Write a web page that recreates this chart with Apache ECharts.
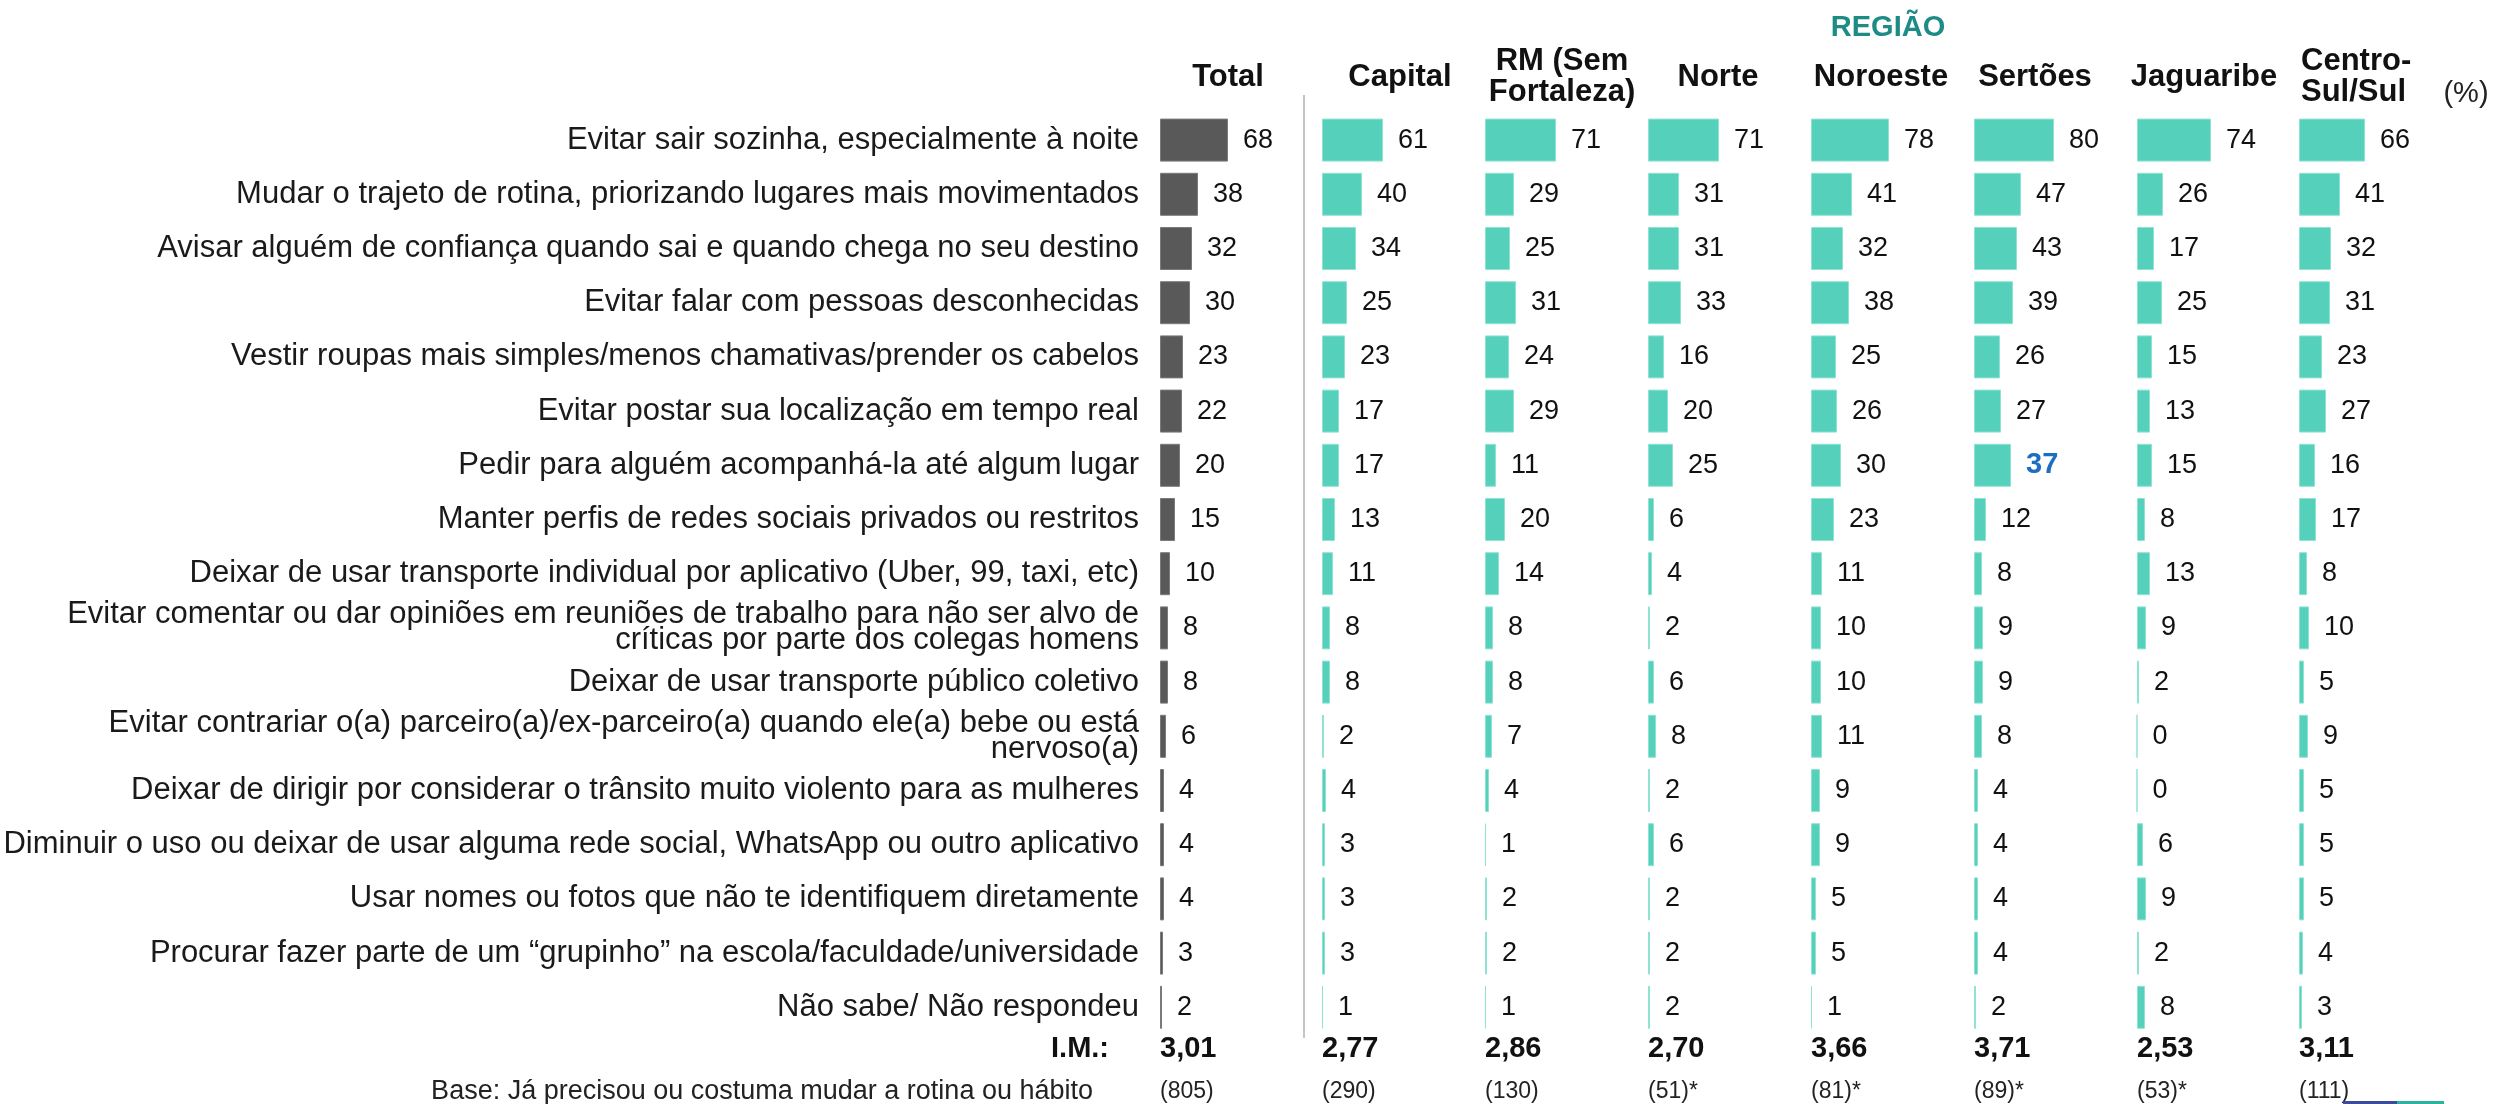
<!DOCTYPE html>
<html>
<head>
<meta charset="utf-8">
<script src="https://cdn.jsdelivr.net/npm/echarts@6/dist/echarts.min.js"></script>
<style>
  html, body { margin: 0; padding: 0; background: #ffffff; }
  #chart { width: 2494px; height: 1104px; }
</style>
</head>
<body>
<div id="chart"></div>
<script>
// Measures adopted to protect themselves (%), by region
const categories = [
  'Evitar sair sozinha, especialmente à noite',
  'Mudar o trajeto de rotina, priorizando lugares mais movimentados',
  'Avisar alguém de confiança quando sai e quando chega no seu destino',
  'Evitar falar com pessoas desconhecidas',
  'Vestir roupas mais simples/menos chamativas/prender os cabelos',
  'Evitar postar sua localização em tempo real',
  'Pedir para alguém acompanhá-la até algum lugar',
  'Manter perfis de redes sociais privados ou restritos',
  'Deixar de usar transporte individual por aplicativo (Uber, 99, taxi, etc)',
  'Evitar comentar ou dar opiniões em reuniões de trabalho para não ser alvo de\ncríticas por parte dos colegas homens',
  'Deixar de usar transporte público coletivo',
  'Evitar contrariar o(a) parceiro(a)/ex-parceiro(a) quando ele(a) bebe ou está\nnervoso(a)',
  'Deixar de dirigir por considerar o trânsito muito violento para as mulheres',
  'Diminuir o uso ou deixar de usar alguma rede social, WhatsApp ou outro aplicativo',
  'Usar nomes ou fotos que não te identifiquem diretamente',
  'Procurar fazer parte de um “grupinho” na escola/faculdade/universidade',
  'Não sabe/ Não respondeu'
];

const columnNames = ['Total', 'Capital', 'RM (Sem\nFortaleza)', 'Norte', 'Noroeste', 'Sertões', 'Jaguaribe', 'Centro-\nSul/Sul'];

const total      = [68, 38, 32, 30, 23, 22, 20, 15, 10, 8, 8, 6, 4, 4, 4, 3, 2];
const capital    = [61, 40, 34, 25, 23, 17, 17, 13, 11, 8, 8, 2, 4, 3, 3, 3, 1];
const rmSemFort  = [71, 29, 25, 31, 24, 29, 11, 20, 14, 8, 8, 7, 4, 1, 2, 2, 1];
const norte      = [71, 31, 31, 33, 16, 20, 25, 6, 4, 2, 6, 8, 2, 6, 2, 2, 2];
const noroeste   = [78, 41, 32, 38, 25, 26, 30, 23, 11, 10, 10, 11, 9, 9, 5, 5, 1];
const sertoes    = [80, 47, 43, 39, 26, 27, 37, 12, 8, 9, 9, 8, 4, 4, 4, 4, 2];
const jaguaribe  = [74, 26, 17, 25, 15, 13, 15, 8, 13, 9, 2, 0, 0, 6, 9, 2, 8];
const centroSul  = [66, 41, 32, 31, 23, 27, 16, 17, 8, 10, 5, 9, 5, 5, 5, 4, 3];

const columns = [total, capital, rmSemFort, norte, noroeste, sertoes, jaguaribe, centroSul];

const imValues   = ['3,01', '2,77', '2,86', '2,70', '3,66', '3,71', '2,53', '3,11'];
const baseValues = ['(805)', '(290)', '(130)', '(51)*', '(81)*', '(89)*', '(53)*', '(111)'];

const regionTitle = 'REGIÃO';
const unitLabel = '(%)';
const imLabel = 'I.M.:';
const baseLabel = 'Base: Já precisou ou costuma mudar a rotina ou hábito';

// value highlighted in the Sertões column ("Pedir para alguém acompanhá-la...")
const highlight = { column: 5, row: 6 };

// ---- layout ----
const colLeft = [1160, 1322, 1485, 1648, 1811, 1974, 2137, 2299];
// header anchor: horizontal offset from the column start and alignment
const headerDx = [68, 78, 77, 70, 70, 61, 67, 2];
const headerAlign = ['center', 'center', 'center', 'center', 'center', 'center', 'center', 'left'];
const gridTop = 113;
const rowH = 54.2;
const gridH = rowH * categories.length;
const FONT = "'Liberation Sans', Arial, sans-serif";
const TEAL = '#55D1BB';
const GREY = '#595959';

const chart = echarts.init(document.getElementById('chart'), null, { renderer: 'canvas' });

const grids = [], xAxes = [], yAxes = [], series = [];
columns.forEach((vals, i) => {
  grids.push({ left: colLeft[i], top: gridTop, width: 100, height: gridH, containLabel: false });
  xAxes.push({ gridIndex: i, type: 'value', min: 0, max: 100, show: false });
  yAxes.push({
    gridIndex: i, type: 'category', data: categories, inverse: true,
    axisLine: { show: false }, axisTick: { show: false }, splitLine: { show: false },
    axisLabel: i === 0 ? {
      show: true, margin: 21, fontFamily: FONT, fontSize: 31, color: '#1a1a1a',
      lineHeight: 26, align: 'right'
    } : { show: false }
  });
  const isTotal = i === 0;
  series.push({
    type: 'bar', xAxisIndex: i, yAxisIndex: i, barWidth: 43,
    itemStyle: {
      color: isTotal ? GREY : TEAL,
      borderColor: isTotal ? '#7a7a7a' : '#8FE3D3', borderWidth: 1
    },
    label: {
      show: true, position: 'right', distance: 15,
      fontFamily: FONT, fontSize: 27, color: '#111111'
    },
    data: vals.map((v, r) => {
      if (i === highlight.column && r === highlight.row) {
        return { value: v, label: { color: '#1B6EC2', fontWeight: 'bold', fontSize: 29 } };
      }
      return v;
    }),
    animation: false
  });
});

const graphics = [];
// column headers
columnNames.forEach((name, i) => {
  graphics.push({
    type: 'text', x: colLeft[i] + headerDx[i], y: 77,
    style: {
      text: name, fontFamily: FONT, fontWeight: 'bold', fontSize: 31, lineHeight: 31,
      fill: '#111111', align: headerAlign[i], verticalAlign: 'middle'
    }
  });
});
graphics.push({
  type: 'text', x: 1888, y: 28,
  style: { text: regionTitle, fontFamily: FONT, fontWeight: 'bold', fontSize: 29, fill: '#1D8B86', align: 'center', verticalAlign: 'middle' }
});
graphics.push({
  type: 'text', x: 2466, y: 94,
  style: { text: unitLabel, fontFamily: FONT, fontSize: 29, fill: '#222222', align: 'center', verticalAlign: 'middle' }
});
// divider between Total and regions
graphics.push({
  type: 'line', shape: { x1: 1304, y1: 95, x2: 1304, y2: 1038 },
  style: { stroke: '#C4C4C4', lineWidth: 2 }
});
// I.M. row
graphics.push({
  type: 'text', x: 1109, y: 1049,
  style: { text: imLabel, fontFamily: FONT, fontWeight: 'bold', fontSize: 29, fill: '#111111', align: 'right', verticalAlign: 'middle' }
});
imValues.forEach((t, i) => {
  graphics.push({
    type: 'text', x: colLeft[i], y: 1049,
    style: { text: t, fontFamily: FONT, fontWeight: 'bold', fontSize: 29, fill: '#111111', align: 'left', verticalAlign: 'middle' }
  });
});
// base row
graphics.push({
  type: 'text', x: 1093, y: 1092,
  style: { text: baseLabel, fontFamily: FONT, fontSize: 27, fill: '#222222', align: 'right', verticalAlign: 'middle' }
});
baseValues.forEach((t, i) => {
  graphics.push({
    type: 'text', x: colLeft[i], y: 1092,
    style: { text: t, fontFamily: FONT, fontSize: 23, fill: '#222222', align: 'left', verticalAlign: 'middle' }
  });
});
// footer accent
graphics.push({ type: 'rect', shape: { x: 2343, y: 1101, width: 54, height: 3 }, style: { fill: '#3B4C9B' } });
graphics.push({ type: 'rect', shape: { x: 2397, y: 1101, width: 47, height: 3 }, style: { fill: '#2BB39E' } });

chart.setOption({
  backgroundColor: '#ffffff',
  animation: false,
  grid: grids,
  xAxis: xAxes,
  yAxis: yAxes,
  series: series,
  graphic: graphics
});
</script>
</body>
</html>
